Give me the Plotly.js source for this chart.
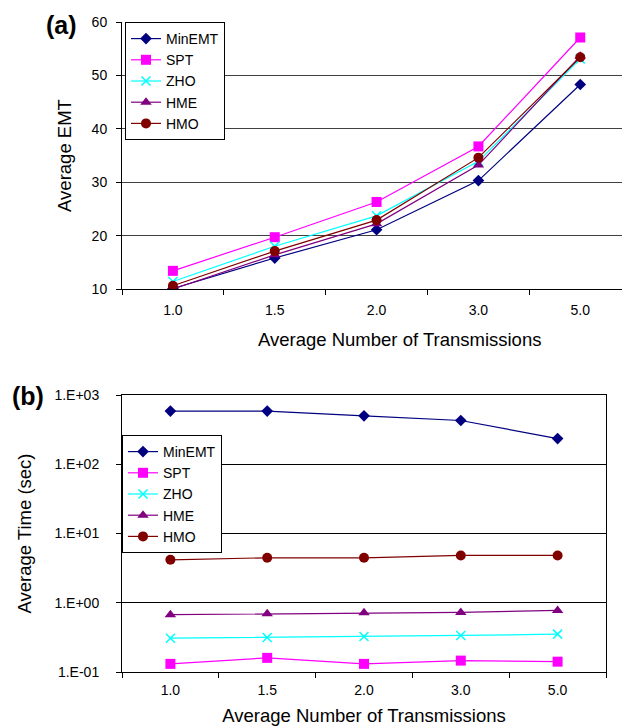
<!DOCTYPE html>
<html><head><meta charset="utf-8">
<script src="https://cdn.plot.ly/plotly-3.0.1.min.js"></script>
<style>body{margin:0;padding:0;background:#fff}#chart{width:622px;height:727px}</style>
</head><body><div id="chart"></div>
<script>
const categories = ['1.0', '1.5', '2.0', '3.0', '5.0'];
const seriesNames = ['MinEMT', 'SPT', 'ZHO', 'HME', 'HMO'];

// (a) Average EMT
const emtMinEMT = [10.1, 15.8, 21.1, 30.3, 48.3];
const emtSPT    = [13.4, 19.7, 26.3, 36.7, 57.1];
const emtZHO    = [11.4, 18.0, 23.7, 33.9, 53.1];
const emtHME    = [10.0, 16.4, 22.2, 33.2, 53.6];
const emtHMO    = [10.6, 17.1, 22.9, 34.6, 53.4];

// (b) Average Time (sec)
const timeMinEMT = [586, 586, 501, 428, 235];
const timeSPT    = [0.131, 0.160, 0.131, 0.146, 0.141];
const timeZHO    = [0.308, 0.315, 0.326, 0.337, 0.352];
const timeHME    = [0.672, 0.695, 0.718, 0.726, 0.776];
const timeHMO    = [4.17, 4.46, 4.46, 4.82, 4.82];

const timeTickVals = [0.1, 1, 10, 100, 1000];
const timeTickText = ['1.E-01', '1.E+00', '1.E+01', '1.E+02', '1.E+03'];

const xTitle = 'Average Number of Transmissions';

const colors = ['#000080', '#FF00FF', '#00FFFF', '#800080', '#800000'];
const symbols = ['diamond', 'square', 'x-thin-open', 'triangle-up', 'circle'];
const sizes = [9, 10, 9, 10, 10];

const emtData = [emtMinEMT, emtSPT, emtZHO, emtHME, emtHMO];
const timeData = [timeMinEMT, timeSPT, timeZHO, timeHME, timeHMO];

const FONT = 'Liberation Sans, Arial, sans-serif';
const traces = [];
seriesNames.forEach((name, i) => {
  const marker = {symbol: symbols[i], size: sizes[i], color: colors[i]};
  if (symbols[i] === 'x-thin-open') marker.line = {color: colors[i], width: 1.5};
  traces.push({
    x: categories, y: emtData[i], name: name, type: 'scatter', mode: 'lines+markers',
    line: {color: colors[i], width: 1.2}, marker: marker,
    xaxis: 'x', yaxis: 'y', legend: 'legend'
  });
});
seriesNames.forEach((name, i) => {
  const marker = {symbol: symbols[i], size: sizes[i], color: colors[i]};
  if (symbols[i] === 'x-thin-open') marker.line = {color: colors[i], width: 1.5};
  traces.push({
    x: categories, y: timeData[i], name: name, type: 'scatter', mode: 'lines+markers',
    line: {color: colors[i], width: 1.2}, marker: marker,
    xaxis: 'x2', yaxis: 'y2', legend: 'legend2'
  });
});

const W = 622, H = 727;
const titleFont = {family: FONT, size: 18.5, color: '#000'};
const tickFont = {family: FONT, size: 14, color: '#000'};

const layout = {
  width: W, height: H,
  margin: {l: 0, r: 0, t: 0, b: 0},
  paper_bgcolor: '#fff', plot_bgcolor: '#fff',
  font: {family: FONT, color: '#000'},
  showlegend: true,
  xaxis: {
    domain: [122 / W, 1], anchor: 'y', type: 'category',
    range: [-0.5, 4.41], tickson: 'boundaries',
    ticks: 'outside', ticklen: 5, tickcolor: '#000',
    showline: true, linecolor: '#000', linewidth: 1,
    showgrid: false, zeroline: false,
    tickfont: tickFont, ticklabelstandoff: 8,
    automargin: false
  },
  yaxis: {
    domain: [(H - 289) / H, (H - 22) / H], anchor: 'x',
    range: [10, 60], tickvals: [10, 20, 30, 40, 50, 60],
    ticks: 'outside', ticklen: 5, tickcolor: '#000',
    showline: true, linecolor: '#000', linewidth: 1,
    showgrid: true, gridcolor: '#404040', gridwidth: 1, zeroline: false,
    tickfont: tickFont, ticklabelstandoff: 6,
    title: {text: 'Average EMT', font: titleFont, standoff: 15},
    automargin: false
  },
  xaxis2: {
    domain: [122 / W, 606 / W], anchor: 'y2', type: 'category',
    range: [-0.5, 4.5], tickson: 'boundaries',
    ticks: 'outside', ticklen: 5, tickcolor: '#000',
    showline: true, mirror: true, linecolor: '#000', linewidth: 1,
    showgrid: false, zeroline: false,
    tickfont: tickFont, ticklabelstandoff: 5,
    title: {text: xTitle, font: titleFont, standoff: 12},
    automargin: false
  },
  yaxis2: {
    domain: [(H - 672) / H, (H - 395) / H], anchor: 'x2',
    type: 'log', range: [-1, 3],
    tickvals: timeTickVals, ticktext: timeTickText,
    ticks: 'outside', ticklen: 5, tickcolor: '#000',
    showline: true, mirror: true, linecolor: '#000', linewidth: 1,
    showgrid: true, gridcolor: '#000', gridwidth: 1, zeroline: false,
    tickfont: tickFont, ticklabelstandoff: 14,
    title: {text: 'Average Time (sec)', font: titleFont, standoff: 17},
    automargin: false
  },
  legend: {
    x: 125 / W, y: 1 - 22 / H, xanchor: 'left', yanchor: 'top',
    bgcolor: '#fff', bordercolor: '#000', borderwidth: 1,
    font: {family: FONT, size: 14, color: '#000'}, tracegroupgap: 0
  },
  legend2: {
    x: 122 / W, y: 1 - 435 / H, xanchor: 'left', yanchor: 'top',
    bgcolor: '#fff', bordercolor: '#000', borderwidth: 1,
    font: {family: FONT, size: 14, color: '#000'}, tracegroupgap: 0
  },
  annotations: [
    {text: xTitle, xref: 'paper', yref: 'paper', x: 399 / W, y: 1 - 339 / H,
     xanchor: 'center', yanchor: 'middle', showarrow: false, font: titleFont},
    {text: '<b>(a)</b>', xref: 'paper', yref: 'paper', x: 61 / W, y: 1 - 25 / H,
     xanchor: 'center', yanchor: 'middle', showarrow: false, font: {family: FONT, size: 25, color: '#000'}},
    {text: '<b>(b)</b>', xref: 'paper', yref: 'paper', x: 28 / W, y: 1 - 396 / H,
     xanchor: 'center', yanchor: 'middle', showarrow: false, font: {family: FONT, size: 25, color: '#000'}}
  ]
};

Plotly.newPlot('chart', traces, layout, {displayModeBar: false, staticPlot: true});
</script>
</body></html>
